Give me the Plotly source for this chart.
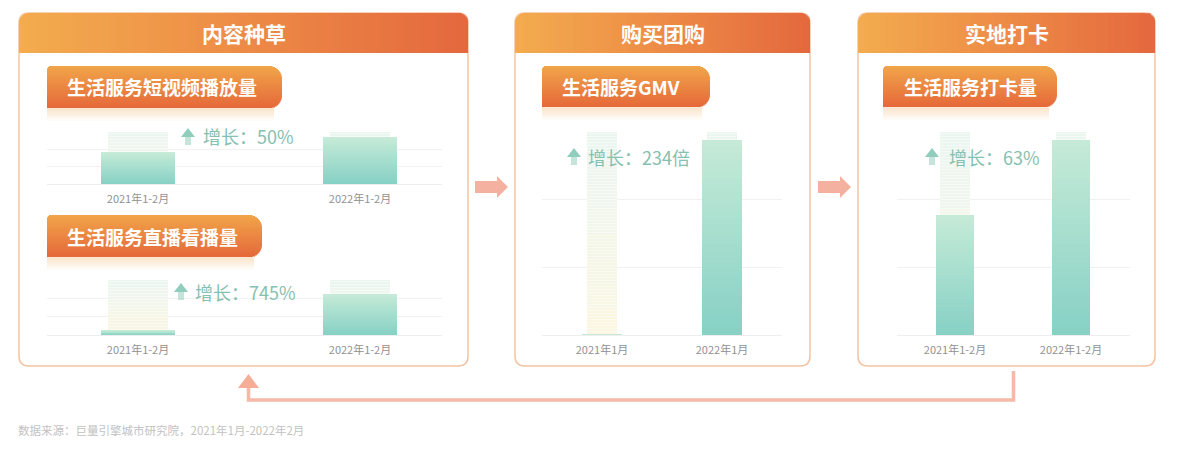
import math
import plotly.graph_objects as go

# ---------------- data ----------------
panel_titles = ["内容种草", "购买团购", "实地打卡"]
metric_titles = ["生活服务短视频播放量", "生活服务直播看播量", "生活服务GMV", "生活服务打卡量"]
periods_2m = ["2021年1-2月", "2022年1-2月"]
periods_1m = ["2021年1月", "2022年1月"]
short_video_views = [1.8, 2.7]
live_views = [0.265, 2.24]
gmv = [0.0123, 2.88]
checkins = [1.77, 2.88]
growth_labels = ["增长：50%", "增长：745%", "增长：234倍", "增长：63%"]
source_note = "数据来源：巨量引擎城市研究院，2021年1月-2022年2月"

YMAX = 3
FONT = "Noto Sans CJK SC"
W, H = 1200, 451


def X(p):
    return p / W


def Y(p):
    return 1 - p / H


def P(x, y):
    return f"{X(x):.5f},{Y(y):.5f}"


def mix(c1, c2, t):
    t = max(0.0, min(1.0, t))
    return "rgb(%d,%d,%d)" % tuple(round(a + (b - a) * t) for a, b in zip(c1, c2))


shapes = []
annotations = []


def rect(x0, y0, x1, y1, color, layer="below"):
    shapes.append(dict(type="rect", xref="paper", yref="paper",
                       x0=X(x0), x1=X(x1), y0=Y(y1), y1=Y(y0),
                       fillcolor=color, line=dict(width=0), layer=layer))


def add_path(d, fill=None, line_color=None, line_width=0, layer="below"):
    s = dict(type="path", xref="paper", yref="paper", path=d, layer=layer,
             line=dict(width=line_width, color=line_color or "rgba(0,0,0,0)"))
    if fill:
        s["fillcolor"] = fill
    shapes.append(s)


def rrect(x0, y0, x1, y1, r):
    return (f"M {P(x0 + r, y0)} L {P(x1 - r, y0)} Q {P(x1, y0)} {P(x1, y0 + r)} "
            f"L {P(x1, y1 - r)} Q {P(x1, y1)} {P(x1 - r, y1)} L {P(x0 + r, y1)} "
            f"Q {P(x0, y1)} {P(x0, y1 - r)} L {P(x0, y0 + r)} Q {P(x0, y0)} {P(x0 + r, y0)} Z")


# ---------------- panels ----------------
panels = [(19, 468), (515, 810), (858, 1155)]
P_TOP, P_BOT, HDR_BOT, R = 13, 366, 53, 10

for (x0, x1) in panels:
    add_path(rrect(x0, P_TOP, x1, P_BOT, R), fill="white", line_color="#f4c3a3", line_width=1.5)

cL, cM, cR = (243, 172, 78), (237, 139, 70), (228, 104, 62)
for (x0, x1) in panels:
    x = x0
    while x < x1:
        w = 1 if (x < x0 + R or x > x1 - R - 1) else 6
        w = min(w, x1 - x)
        xc = x + w / 2
        top = P_TOP
        if xc < x0 + R:
            d = x0 + R - xc
            top = P_TOP + R - math.sqrt(max(R * R - d * d, 0))
        elif xc > x1 - R:
            d = xc - (x1 - R)
            top = P_TOP + R - math.sqrt(max(R * R - d * d, 0))
        t = (xc - x0) / (x1 - x0)
        col = mix(cL, cM, 2 * t) if t < 0.5 else mix(cM, cR, 2 * t - 1)
        rect(x, top, min(x + w + 0.6, x1), HDR_BOT, col)
        x += w

for (x0, x1), title in zip(panels, panel_titles):
    annotations.append(dict(x=X((x0 + x1) / 2), y=Y(33), xref="paper", yref="paper",
                            text=title, showarrow=False, xanchor="center", yanchor="middle",
                            font=dict(family=FONT, size=21, color="white", weight="bold")))

# ---------------- metric pills ----------------
pills = [(47, 66, 282, 108), (47, 215, 262, 257), (542, 66, 710, 107), (883, 66, 1057, 107)]
pill_text_x = [65, 65, 560, 902]
cT, cB = (241, 165, 73), (229, 104, 58)
for (x0, y0, x1, y1) in pills:
    r, rl = 13, 4
    for py in range(y0, y1):
        yc = py + 0.5
        ins_r = 0
        if yc - y0 < r:
            d = r - (yc - y0)
            ins_r = r - math.sqrt(max(r * r - d * d, 0))
        elif y1 - yc < r:
            d = r - (y1 - yc)
            ins_r = r - math.sqrt(max(r * r - d * d, 0))
        ins_l = 0
        if yc - y0 < rl:
            d = rl - (yc - y0)
            ins_l = rl - math.sqrt(max(rl * rl - d * d, 0))
        rect(x0 + ins_l, py, x1 - ins_r, min(py + 1.5, y1), mix(cT, cB, (yc - y0) / (y1 - y0)))
    for k in range(13):
        a = 0.5 * (1 - k / 13)
        rect(x0, y1 + k, x1 - 8, y1 + k + 1.2, f"rgba(247,208,165,{a:.3f})")

for (x0, y0, x1, y1), tx, title in zip(pills, pill_text_x, metric_titles):
    annotations.append(dict(x=X(tx), y=Y((y0 + y1) / 2), xref="paper", yref="paper",
                            text=title, showarrow=False, xanchor="left", yanchor="middle",
                            font=dict(family=FONT, size=19, color="white", weight=600)))

# ---------------- charts ----------------
charts = [
    dict(vals=short_video_views, cats=periods_2m, dom=(47, 442), base=184, top=132, c=(138, 360), bw=74, gw=60),
    dict(vals=live_views, cats=periods_2m, dom=(47, 442), base=335, top=280, c=(138, 360), bw=74, gw=60),
    dict(vals=gmv, cats=periods_1m, dom=(542, 782), base=335, top=132, c=(602, 722), bw=40, gw=30),
    dict(vals=checkins, cats=periods_2m, dom=(897, 1130), base=335, top=132, c=(955, 1071), bw=38, gw=30),
]

fig = go.Figure()
layout_axes = {}
N = 30
bar_bottom, bar_top = (135, 209, 197), (197, 234, 215)
ghost_bottom, ghost_top = (250, 246, 226), (236, 246, 241)

for i, ch in enumerate(charts):
    n = i + 1
    xa = "x" if n == 1 else f"x{n}"
    ya = "y" if n == 1 else f"y{n}"
    span = ch["c"][1] - ch["c"][0]
    r0 = (ch["dom"][0] - ch["c"][0]) / span
    r1 = (ch["dom"][1] - ch["c"][0]) / span
    bw = ch["bw"] / span
    gw = ch["gw"] / span
    # background "ghost" columns up to the axis maximum
    NG = 8
    for k in range(NG):
        b = YMAX * k / NG
        fig.add_trace(go.Bar(x=ch["cats"], y=[YMAX - b] * 2, base=[b] * 2, width=gw,
                             xaxis=xa, yaxis=ya, hoverinfo="skip",
                             marker=dict(color=mix(ghost_bottom, ghost_top, k / (NG - 1)), line=dict(width=0),
                                         pattern=dict(shape="-", fgcolor="rgba(255,255,255,0.9)",
                                                      size=3, solidity=0.35, fillmode="overlay"))))
    # value bars with vertical gradient
    for k in range(N):
        bases = [v * k / N for v in ch["vals"]]
        heights = [v - b for v, b in zip(ch["vals"], bases)]
        fig.add_trace(go.Bar(x=ch["cats"], y=heights, base=bases, width=bw,
                             xaxis=xa, yaxis=ya, hoverinfo="skip",
                             marker=dict(color=mix(bar_bottom, bar_top, k / (N - 1)), line=dict(width=0))))
    layout_axes["xaxis" if n == 1 else f"xaxis{n}"] = dict(
        domain=[X(ch["dom"][0]), X(ch["dom"][1])], anchor=ya, type="category",
        range=[r0, r1], showgrid=False, zeroline=False, showline=False,
        ticks="outside", ticklen=5, tickcolor="rgba(0,0,0,0)",
        tickfont=dict(family=FONT, size=11, color="#919191"), fixedrange=True)
    layout_axes["yaxis" if n == 1 else f"yaxis{n}"] = dict(
        domain=[Y(ch["base"]), Y(ch["top"])], anchor=xa, range=[0, YMAX], dtick=1,
        showgrid=True, gridcolor="#f1f1f1", gridwidth=1, zeroline=True,
        zerolinecolor="#eeeeee", zerolinewidth=1, showline=False, showticklabels=False,
        fixedrange=True)

# growth labels with up-arrow icons
arrow_pos = [(188, 128), (181, 283), (574, 148), (932, 148)]
label_pos = [(201, 136), (193, 292), (586, 157), (947, 157)]
for (cx, ty), (lx, ly), txt in zip(arrow_pos, label_pos, growth_labels):
    add_path(f"M {P(cx - 7, ty + 9)} L {P(cx, ty)} L {P(cx + 7, ty + 9)} Z",
             fill="rgba(126,196,176,0.85)", layer="above")
    add_path(f"M {P(cx - 3, ty + 9)} L {P(cx + 3, ty + 9)} L {P(cx + 3, ty + 17)} L {P(cx - 3, ty + 17)} Z",
             fill="rgba(150,208,190,0.55)", layer="above")
    annotations.append(dict(x=X(lx), y=Y(ly), xref="paper", yref="paper", text=txt,
                            showarrow=False, xanchor="left", yanchor="middle",
                            font=dict(family=FONT, size=18, color="#86c0b0")))

# flow arrows between panels
for sx in (475, 818):
    add_path(f"M {P(sx, 181)} L {P(sx + 22, 181)} L {P(sx + 22, 176)} L {P(sx + 33, 187)} "
             f"L {P(sx + 22, 198)} L {P(sx + 22, 193)} L {P(sx, 193)} Z", fill="#f5b1a0")

# return arrow along the bottom
add_path(f"M {P(1013.5, 371)} L {P(1013.5, 400)} L {P(248.5, 400)} L {P(248.5, 386)}",
         line_color="#f6b9a7", line_width=3.5)
add_path(f"M {P(238, 388)} L {P(248.5, 374)} L {P(259, 388)} Z", fill="#f5ad98")

annotations.append(dict(x=X(16), y=Y(430), xref="paper", yref="paper", text=source_note,
                        showarrow=False, xanchor="left", yanchor="middle",
                        font=dict(family=FONT, size=11.5, color="#c2c2c2")))

fig.update_layout(width=W, height=H, margin=dict(l=0, r=0, t=0, b=0),
                  paper_bgcolor="white", plot_bgcolor="rgba(0,0,0,0)",
                  barmode="overlay", showlegend=False,
                  shapes=shapes, annotations=annotations, **layout_axes)

fig.write_html("out.html")
